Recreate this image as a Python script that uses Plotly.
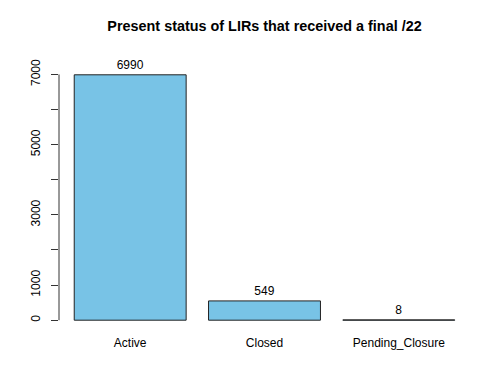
import plotly.graph_objects as go

categories = ["Active", "Closed", "Pending_Closure"]
values = [6990, 549, 8]
bar_positions = [0.7, 1.9, 3.1]
ytick_vals = [0, 1000, 2000, 3000, 4000, 5000, 6000, 7000]
ytick_text = ["0", "1000", "", "3000", "", "5000", "", "7000"]

FONT = "Liberation Sans, Arial, Helvetica, sans-serif"

fig = go.Figure()
fig.add_trace(go.Bar(
    x=bar_positions, y=values, width=1.0,
    marker=dict(color="#78C3E6", line=dict(color="#222222", width=1)),
    text=[str(v) for v in values], textposition="outside",
    textfont=dict(family=FONT, size=12, color="black"),
    cliponaxis=False, hoverinfo="skip",
))

fig.update_layout(
    width=500, height=370,
    margin=dict(l=59, r=30, t=65, b=40),
    plot_bgcolor="white", paper_bgcolor="white",
    showlegend=False,
    title=dict(text="<b>Present status of LIRs that received a final /22</b>",
               x=0.529, xanchor="center",
               y=1 - 26 / 370, yanchor="middle",
               font=dict(family=FONT, size=14.4, color="black")),
    font=dict(family=FONT, size=12, color="black"),
)

fig.update_xaxes(
    range=[0.064, 3.736], tickvals=bar_positions, ticktext=categories,
    showgrid=False, zeroline=False, showline=False, ticks="",
    tickfont=dict(family=FONT, size=12, color="black"),
    ticklabelstandoff=4, automargin=False,
)
fig.update_yaxes(
    range=[-279.6, 7269.6], tickvals=ytick_vals, ticktext=ytick_text,
    tickangle=-90, ticks="outside", ticklen=7, tickcolor="#333333", tickwidth=1,
    showgrid=False, zeroline=False, showline=False,
    tickfont=dict(family=FONT, size=12, color="black"),
    ticklabelstandoff=6, automargin=False,
)

fig.add_shape(type="line", xref="paper", yref="y", x0=0, x1=0,
              y0=ytick_vals[0], y1=ytick_vals[-1],
              line=dict(color="#333333", width=1))

fig.write_html("out.html", config={"displayModeBar": False},
               post_script="document.body.style.margin='0px';document.body.style.padding='0px';")
